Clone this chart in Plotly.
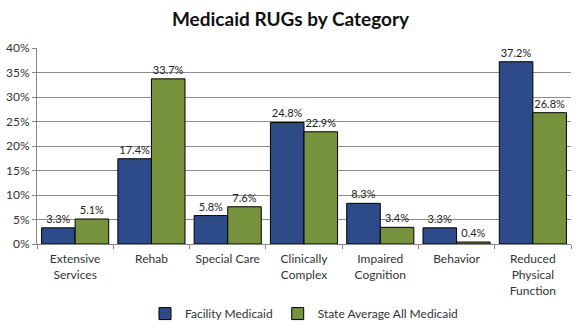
import plotly.graph_objects as go

categories = ["Extensive<br>Services", "Rehab", "Special Care", "Clinically<br>Complex",
              "Impaired<br>Cognition", "Behavior", "Reduced<br>Physical<br>Function"]
facility = [3.3, 17.4, 5.8, 24.8, 8.3, 3.3, 37.2]
state_avg = [5.1, 33.7, 7.6, 22.9, 3.4, 0.4, 26.8]
y_ticks = [0, 5, 10, 15, 20, 25, 30, 35, 40]

FONT = "Lato, Carlito, 'Open Sans', sans-serif"

fig = go.Figure()
for name, vals, color in [("Facility Medicaid", facility, "#2D4B89"),
                          ("State Average All Medicaid", state_avg, "#76923C")]:
    fig.add_trace(go.Bar(
        x=categories, y=vals, name=name,
        marker=dict(color=color, line=dict(color="#000000", width=1)),
        text=[f"{v:.1f}%" for v in vals], textposition="outside",
        textfont=dict(size=11, color="#222222", family=FONT),
        cliponaxis=False,
    ))

fig.update_layout(
    width=581, height=328,
    margin=dict(l=37, r=10, t=48, b=84, autoexpand=False),
    paper_bgcolor="white", plot_bgcolor="white",
    barmode="group", bargap=0.12, bargroupgap=0,
    title=dict(text="<b>Medicaid RUGs by Category</b>", x=0.5, xanchor="center",
               y=0.94, yanchor="middle",
               font=dict(size=19, color="#111111", family=FONT)),
    font=dict(family=FONT, size=12, color="#333333"),
    legend=dict(orientation="h", x=0.5, xanchor="center", y=-0.355, yanchor="middle",
                font=dict(size=12, color="#333333"), itemwidth=30,
                traceorder="normal", tracegroupgap=0),
    showlegend=True,
)
fig.update_xaxes(showline=True, linecolor="#888888", linewidth=1, automargin=False,
                 ticks="outside", tickson="boundaries", ticklen=4, tickcolor="#888888",
                 ticklabelstandoff=4,
                 tickfont=dict(size=12, color="#333333"))
fig.update_yaxes(range=[0, 40], tickvals=y_ticks, ticktext=[f"{t}%" for t in y_ticks],
                 automargin=False,
                 showgrid=True, gridcolor="#8C8C8C", gridwidth=1,
                 showline=True, linecolor="#888888", linewidth=1,
                 ticks="outside", ticklen=4, tickcolor="#888888",
                 zeroline=False, tickfont=dict(size=12, color="#333333"))

fig.write_html("out.html")
